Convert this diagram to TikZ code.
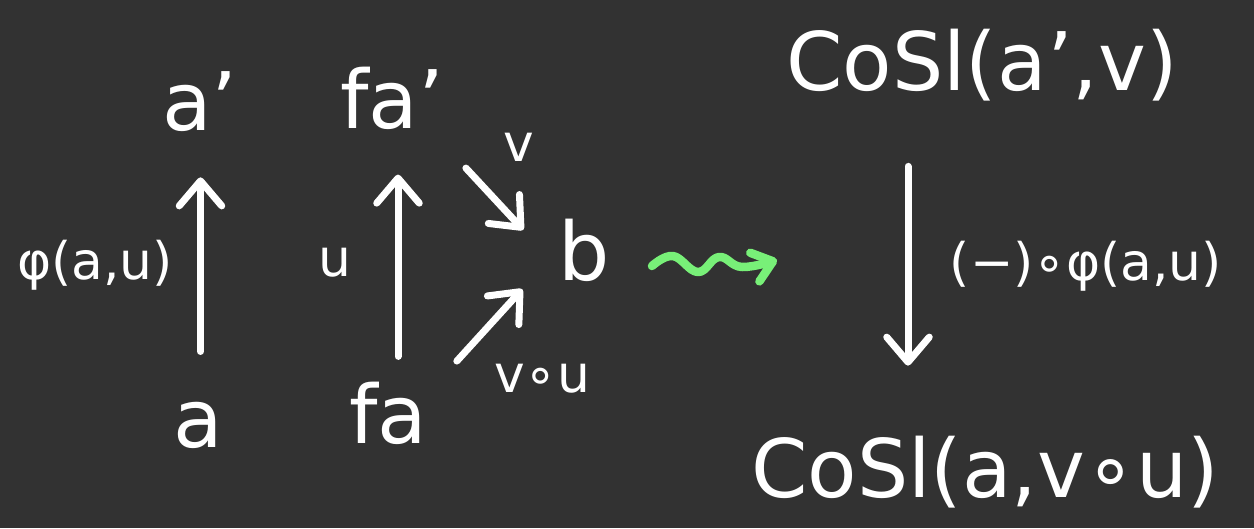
\documentclass[tikz,border=0pt]{standalone}
\usepackage{fontspec}
\setmainfont{DejaVu Sans}
\usetikzlibrary{arrows.meta}
\definecolor{bg}{HTML}{323232}
\definecolor{sq}{HTML}{78F078}
\begin{document}
\begin{tikzpicture}[x=0.02cm,y=-0.02cm,
  obj/.style={text=white,font=\fontsize{46}{50}\selectfont,inner sep=0pt},
  lbl/.style={text=white,font=\fontsize{29.5}{32}\selectfont,inner sep=0pt},
  arr/.style={draw=white,line width=1.4mm,line cap=round,
    -{Straight Barb[length=0.5cm,width=0.85cm,line cap=round,line join=round]}},
  squig/.style={draw=sq,line width=1.7mm,line cap=round,line join=round,
    -{Straight Barb[length=0.38cm,width=0.6cm,line cap=round,line join=round]}}]
\fill[bg] (0,0) rectangle (1254,528);
\useasboundingbox (0,0) rectangle (1254,528);
% left diagram
\node[obj] (ap) at (200,102) {a’};
\node[obj] (a) at (198,425) {a};
\node[obj] (fap) at (392,98) {fa’};
\node[obj] (fa) at (388,413) {fa};
\node[obj] (b) at (584,250) {b};
\node[lbl] (l1) at (95,265) {φ(a,u)};
\node[lbl] (l2) at (335,262) {u};
\node[lbl] (l3) at (519,147) {v};
\node[lbl] (l4) at (542,378) {v∘u};
\draw[arr,shorten <=1cm,shorten >=0.9cm] ([xshift=0.05cm]a.north) -- ([xshift=0.05cm]a.north |- ap.south);
\draw[arr,shorten <=0.5cm,shorten >=0.9cm] ([xshift=0.2cm]fa.north) -- ([xshift=0.2cm]fa.north |- fap.south);
\draw[arr,shorten <=1.05cm,shorten >=0.55cm] ([xshift=-0.28cm]fap.south east) -- ([xshift=-0.32cm]b.west);
\draw[arr,shorten <=0.55cm,shorten >=1.06cm] ([xshift=0.22cm]fa.north east) -- (b.west);
% squiggle
\coordinate (s1) at (652,266);
\coordinate (s2) at (777,260);
\draw[squig] plot[smooth,tension=0.7] coordinates {(s1) (673,256) (698,272) (719,257) (742,267) (s2)};
% right diagram
\node[obj] (top) at (982,65) {CoSl(a’,v)};
\node[obj] (bot) at (985,472) {CoSl(a,v∘u)};
\node[lbl] (l5) at (1086,266) {(−)∘φ(a,u)};
\draw[arr,shorten <=1.3cm,shorten >=1.4cm] ([xshift=-1.48cm]top.south) -- ([xshift=-1.48cm]top.south |- bot.north);
\end{tikzpicture}
\end{document}
